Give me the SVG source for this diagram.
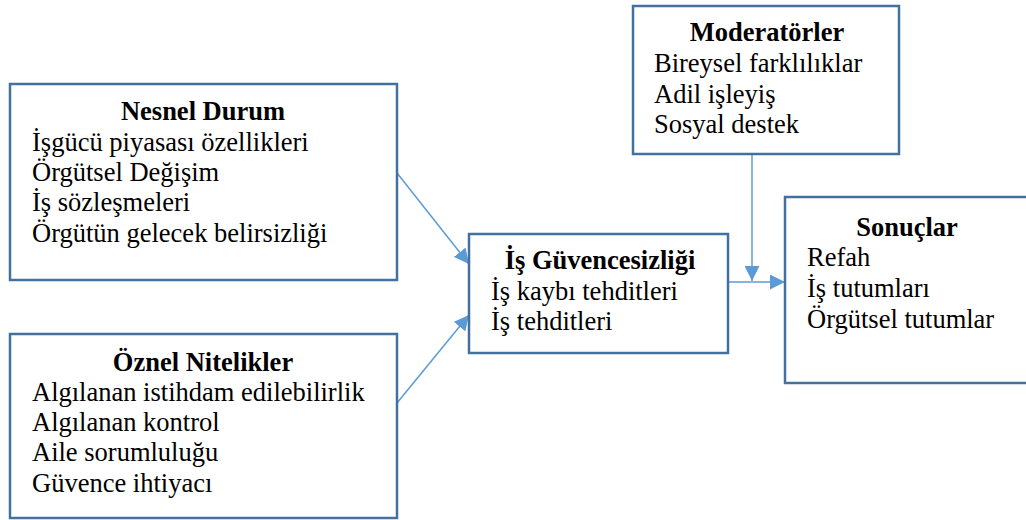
<svg xmlns="http://www.w3.org/2000/svg" width="1026" height="520" viewBox="0 0 1026 520">
<style>
.box{fill:#fff;stroke:#41719c;stroke-width:2.5}
.t{font-weight:bold;text-anchor:middle}
.c{stroke:#5b9bd5;stroke-width:1.5;fill:none}
</style>
<defs>
<marker id="ah" viewBox="0 0 10 10" refX="10" refY="5" markerWidth="15" markerHeight="15" markerUnits="userSpaceOnUse" orient="auto">
<path d="M0,0 L10,5 L0,10 z" fill="#5b9bd5"/>
</marker>
</defs>
<rect width="1026" height="520" fill="#fff"/>
<g id="connectors">
<line class="c" x1="397" y1="173" x2="469" y2="264" marker-end="url(#ah)"/>
<line class="c" x1="397" y1="403" x2="469" y2="315" marker-end="url(#ah)"/>
<line class="c" x1="728" y1="282" x2="785" y2="282" marker-end="url(#ah)"/>
<line class="c" x1="752" y1="154" x2="752" y2="281" marker-end="url(#ah)"/>
</g>
<g style="font-family:'Liberation Serif',serif;font-size:26.5px" fill="#000">
<g id="nesnel">
<rect class="box" x="10" y="84" width="387" height="196"/>
<text class="t" x="203" y="120">Nesnel Durum</text>
<text x="32" y="151">İşgücü piyasası özellikleri</text>
<text x="32" y="181">Örgütsel Değişim</text>
<text x="32" y="211">İş sözleşmeleri</text>
<text x="32" y="242">Örgütün gelecek belirsizliği</text>
</g>
<g id="oznel">
<rect class="box" x="10" y="334" width="387" height="184"/>
<text class="t" x="203" y="371">Öznel Nitelikler</text>
<text x="32" y="401">Algılanan istihdam edilebilirlik</text>
<text x="32" y="431">Algılanan kontrol</text>
<text x="32" y="461">Aile sorumluluğu</text>
<text x="32" y="492">Güvence ihtiyacı</text>
</g>
<g id="guvencesizlik">
<rect class="box" x="469" y="234" width="259" height="119"/>
<text class="t" x="600" y="269">İş Güvencesizliği</text>
<text x="491" y="300">İş kaybı tehditleri</text>
<text x="491" y="330">İş tehditleri</text>
</g>
<g id="moderatorler">
<rect class="box" x="633" y="6" width="266" height="148"/>
<text class="t" x="767" y="41">Moderatörler</text>
<text x="654" y="72">Bireysel farklılıklar</text>
<text x="654" y="103">Adil işleyiş</text>
<text x="654" y="133">Sosyal destek</text>
</g>
<g id="sonuclar">
<rect class="box" x="785" y="197" width="260" height="186"/>
<text class="t" x="907" y="236">Sonuçlar</text>
<text x="807" y="266">Refah</text>
<text x="807" y="297">İş tutumları</text>
<text x="807" y="328">Örgütsel tutumlar</text>
</g>
</g>
</svg>
